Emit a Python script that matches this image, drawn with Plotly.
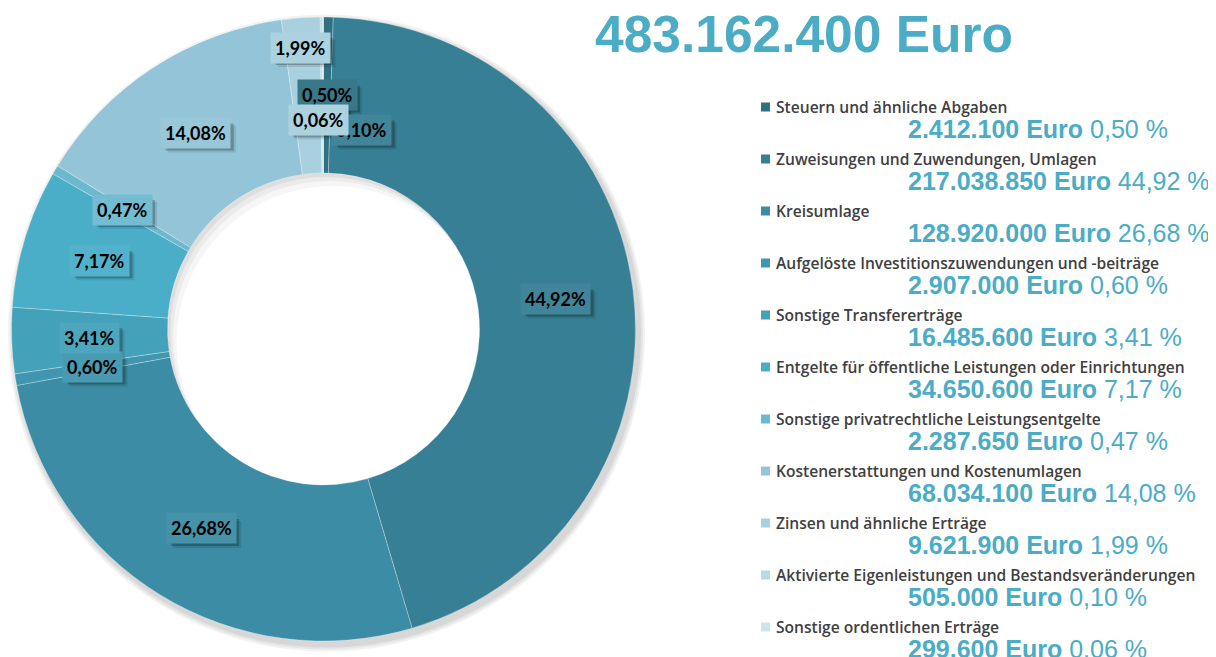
import math
import plotly.graph_objects as go

# ---------------- data ----------------
categories = [
    "Steuern und ähnliche Abgaben",
    "Zuweisungen und Zuwendungen, Umlagen",
    "Kreisumlage",
    "Aufgelöste Investitionszuwendungen und -beiträge",
    "Sonstige Transfererträge",
    "Entgelte für öffentliche Leistungen oder Einrichtungen",
    "Sonstige privatrechtliche Leistungsentgelte",
    "Kostenerstattungen und Kostenumlagen",
    "Zinsen und ähnliche Erträge",
    "Aktivierte Eigenleistungen und Bestandsveränderungen",
    "Sonstige ordentlichen Erträge",
]
amounts_euro = [2412100, 217038850, 128920000, 2907000, 16485600, 34650600,
                2287650, 68034100, 9621900, 505000, 299600]
percent_labels = ["0,50", "44,92", "26,68", "0,60", "3,41", "7,17",
                  "0,47", "14,08", "1,99", "0,10", "0,06"]
total_label = "483.162.400 Euro"

# ---------------- style / layout ----------------
colors = ["#2f7183", "#367f94", "#3b8ca4", "#3f96ae", "#43a1ba", "#4aaec8",
          "#6cb9cf", "#93c4d7", "#a8d0de", "#b9d9e5", "#cde4ec"]
accent = "#4bacc6"
OX, OY = 8, 8            # page body margin
FW, FH = 1208, 649       # figure size
CX, CY, R = 323.5, 329.0, 312.0   # donut centre / radius in page pixels
HOLE = 0.50
LABEL_R = 234.0
LABEL_FONT = 18
# label nudges (px, x right / y down) for crowded small slices
label_nudge = {8: (-6, -48), 9: (40, 35), 10: (-5, 25)}


def px2x(x):
    return (x - OX) / FW


def px2y(y):
    return 1 - (y - OY) / FH


def dom(cx, cy, r):
    return dict(x=[max(0.0, px2x(cx - r)), min(1.0, px2x(cx + r))],
                y=[max(0.0, px2y(cy + r)), min(1.0, px2y(cy - r))])


fig = go.Figure()

# soft outer shadow (rings hidden under the donut except at the outer edge)
for k, a in [(6.5, 0.05), (4.5, 0.05), (2.5, 0.06)]:
    ro = R + k
    fig.add_trace(go.Pie(values=[1], marker=dict(colors=[f"rgba(0,0,0,{a})"]),
                         hole=(R - 30) / ro, domain=dom(CX + 3, CY + 4, ro), sort=False,
                         textinfo="none", hoverinfo="skip", showlegend=False))
# inner hole shadow (crescent at top-left of hole)
RH = R * HOLE
for off, a in [(4, 0.05), (8, 0.045), (13, 0.035)]:
    rout = RH + 18
    fig.add_trace(go.Pie(values=[1], marker=dict(colors=[f"rgba(0,0,0,{a})"]),
                         hole=RH / rout, domain=dom(CX + off * 0.7, CY + off, rout),
                         sort=False, textinfo="none", hoverinfo="skip", showlegend=False))

fig.add_trace(go.Pie(
    labels=categories, values=amounts_euro, sort=False, direction="clockwise",
    rotation=0, hole=HOLE, domain=dom(CX, CY, R),
    marker=dict(colors=colors, line=dict(color="rgba(255,255,255,0.35)", width=0.8)),
    textinfo="none", showlegend=False,
    hovertemplate="%{label}<br>%{value:,} Euro<extra></extra>",
))

total = sum(amounts_euro)
cum = []
c = 0
for v in amounts_euro:
    cum.append(c)
    c += v


def slice_at(px, py):
    ang = math.atan2(px - CX, CY - py) % (2 * math.pi)
    f = ang / (2 * math.pi) * total
    idx = 0
    for i, s in enumerate(cum):
        if f >= s:
            idx = i
    return idx


def lighten(hexc, t):
    r, g, b = int(hexc[1:3], 16), int(hexc[3:5], 16), int(hexc[5:7], 16)
    r, g, b = [int(round(x + (255 - x) * t)) for x in (r, g, b)]
    return f"rgb({r},{g},{b})"


annotations = []
shapes = []
for i, (v, p) in enumerate(zip(amounts_euro, percent_labels)):
    mid = (cum[i] + v / 2) / total * 2 * math.pi
    px = CX + LABEL_R * math.sin(mid)
    py = CY - LABEL_R * math.cos(mid)
    dx, dy = label_nudge.get(i, (0, 0))
    box_col = lighten(colors[slice_at(px + dx, py + dy)], 0.05)
    txt = f"{p}%"
    # drop shadow behind the label box (pixel-sized, anchored at label position)
    nd = sum(ch.isdigit() for ch in txt)
    bw = (0.58 * nd + 1.02) * LABEL_FONT + 8
    bh = 27
    for so, sa in [(6, 0.10), (4, 0.22)]:
        shapes.append(dict(type="rect", xref="paper", yref="paper",
                           xsizemode="pixel", ysizemode="pixel",
                           xanchor=px2x(px), yanchor=px2y(py),
                           x0=dx + so - bw / 2, x1=dx + so + bw / 2,
                           y0=-dy - so - bh / 2, y1=-dy - so + bh / 2,
                           fillcolor=f"rgba(0,0,0,{sa})", line=dict(width=0), layer="above"))
    annotations.append(dict(x=px2x(px), y=px2y(py), xref="paper", yref="paper",
                            xanchor="center", yanchor="middle", showarrow=False,
                            borderpad=4, text=txt, xshift=dx, yshift=-dy,
                            font=dict(family="Lato", size=LABEL_FONT, color="#000000",
                                      weight="bold"),
                            bgcolor=box_col))

# title
annotations.append(dict(x=px2x(804), y=px2y(33.5), xref="paper", yref="paper",
                        xanchor="center", yanchor="middle", showarrow=False,
                        text=f"<b>{total_label}</b>",
                        font=dict(family="Liberation Sans, Arial", size=51.5, color=accent)))

# custom legend
for i, (name, v, p) in enumerate(zip(categories, amounts_euro, percent_labels)):
    ny = 107 + 52 * i
    vy = 129 + 52 * i
    shapes.append(dict(type="rect", xref="paper", yref="paper",
                       x0=px2x(761), x1=px2x(770), y0=px2y(ny + 4.5), y1=px2y(ny - 4.5),
                       fillcolor=colors[i], line=dict(width=0)))
    annotations.append(dict(x=px2x(774), y=px2y(ny), xref="paper", yref="paper",
                            xanchor="left", yanchor="middle", showarrow=False, text=name,
                            font=dict(family="Open Sans", size=15.6, color="#404040",
                                      weight=600)))
    amt = f"{v:,}".replace(",", ".")
    annotations.append(dict(x=px2x(906), y=px2y(vy), xref="paper", yref="paper",
                            xanchor="left", yanchor="middle", showarrow=False,
                            text=f"<b>{amt} Euro</b> {p} %",
                            font=dict(family="Liberation Sans, Arial", size=25, color=accent)))

fig.update_layout(width=FW, height=FH, margin=dict(l=0, r=0, t=0, b=0),
                  paper_bgcolor="white", plot_bgcolor="white",
                  annotations=annotations, shapes=shapes, showlegend=False)

fig.write_html("out.html")
